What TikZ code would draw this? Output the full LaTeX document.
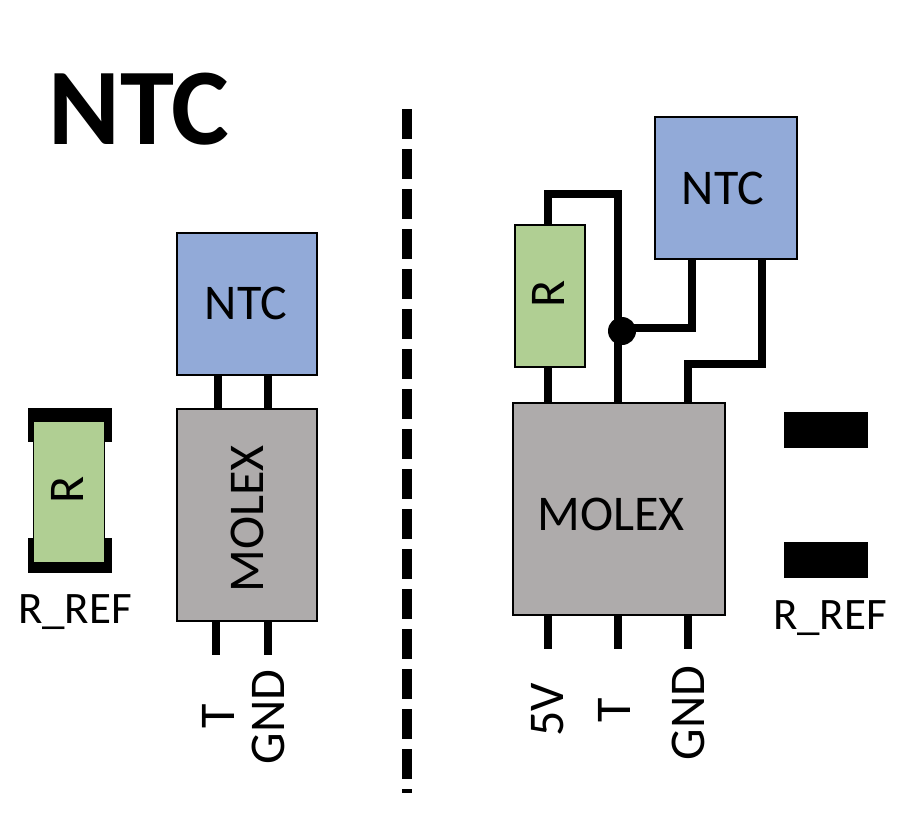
\documentclass[tikz,border=0pt]{standalone}
\usepackage{fontspec}
\setmainfont{Carlito}
\definecolor{ntcblue}{HTML}{92AAD8}
\definecolor{molexgray}{HTML}{AEABAB}
\definecolor{resgreen}{HTML}{B0CF93}
\tikzset{
  partbox/.style={draw=black,line width=1.5pt,minimum width=#1,inner sep=0pt,outer sep=0pt,font=\fontsize{50}{50}\selectfont},
  ntcbox/.style={partbox=140pt,fill=ntcblue,minimum height=142pt},
  wire/.style={line width=8pt,line cap=butt,line join=miter},
  lbl/.style={font=\fontsize{50}{50}\selectfont,inner sep=0pt,outer sep=0pt},
  reflbl/.style={font=\fontsize{45}{45}\selectfont,inner sep=0pt,outer sep=0pt},
  pad/.style={fill=black,inner sep=0pt,outer sep=0pt},
}
\begin{document}
\begin{tikzpicture}[x=1pt,y=-1pt]
\useasboundingbox (0,0) rectangle (909,822);
\node[lbl,font=\fontsize{109}{109}\selectfont\bfseries] (title) at (139,109) {NTC};
% divider
\coordinate (divtop) at (407,109);
\coordinate (divbot) at (407,793);
\draw[line width=10pt,dash pattern=on 30pt off 10pt] (divtop) -- (divbot);
% left side
\node[ntcbox] (lntc) at (247,304) {};
\node[lbl] (lntct) at (246,303) {NTC};
\node[partbox=140pt,fill=molexgray,minimum height=212pt] (lmolex) at (247,515) {};
\node[lbl,rotate=90] (lmtext) at (247,519) {MOLEX};
\draw[wire] (218,375) -- (218,409);
\draw[wire] (268,375) -- (268,409);
\coordinate (lpt) at (216,655);
\coordinate (lpg) at (268,655);
\draw[wire] (216,621) -- (lpt);
\draw[wire] (268,621) -- (lpg);
\node[lbl,rotate=90] (lt) at (218,716) {T};
\node[lbl,rotate=90] (lg) at (268,717) {GND};
% left resistor
\fill (28,408) rectangle (112,442);
\fill (28,538) rectangle (112,573);
\node[draw=black,line width=1.5pt,fill=resgreen,minimum width=71pt,minimum height=158pt,inner sep=0pt,outer sep=0pt] (lrb) at (69,492) {};
\fill[resgreen] (34,422) rectangle (104,562);
\fill (28,408) rectangle (112,422);
\fill (28,562) rectangle (112,573);
\node[lbl,rotate=90] (lr) at (67,490) {R};
\node[reflbl] (lref) at (75,612) {R\_REF};
% right side wires
\node[draw=black,line width=1.5pt,fill=resgreen,minimum width=70pt,minimum height=142pt,inner sep=0pt,outer sep=0pt] (rr) at (550,296) {};
\node[lbl,rotate=90] (rrt) at (548,294) {R};
\node[partbox=142pt,fill=ntcblue,minimum height=142pt] (rntc) at (726,188) {};
\node[lbl] (rntct) at (723,188) {NTC};
\node[partbox=212pt,fill=molexgray,minimum height=212pt] (rmolex) at (619,509) {};
\node[lbl] (rmtext) at (611,514) {MOLEX};
\node[circle,fill=black,minimum size=28pt,inner sep=0pt,outer sep=0pt] (dot) at (622,331) {};
\coordinate (dotw) at (622,328);
\draw[wire] (548,225) -- (548,194) -- (618,194) -- (618,403);
\draw[wire] (548,367) -- (548,403);
\draw[wire] (dotw) -- (692,328) -- (692,259);
\draw[wire] (762,259) -- (762,364) -- (688,364) -- (688,403);
\foreach \x/\n in {548/a,618/b,688/c}{
  \coordinate (rp\n) at (\x,649);
  \draw[wire] (\x,615) -- (rp\n);
}
\node[lbl,rotate=90] (r5) at (548,710) {5V};
\node[lbl,rotate=90] (rt) at (614,710) {T};
\node[lbl,rotate=90] (rg) at (688,713) {GND};
\node[pad,minimum width=84pt,minimum height=36pt] (p1) at (826,430) {};
\node[pad,minimum width=84pt,minimum height=36pt] (p2) at (826,560) {};
\node[reflbl] (rref) at (830,618) {R\_REF};
\end{tikzpicture}
\end{document}
